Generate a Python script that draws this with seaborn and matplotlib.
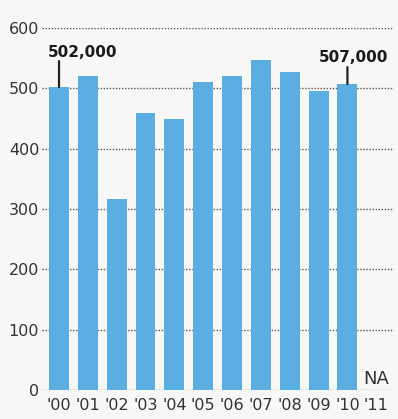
import matplotlib
matplotlib.use("Agg")
import matplotlib.pyplot as plt
import seaborn as sns
import pandas as pd
import numpy as np

years = ["'00", "'01", "'02", "'03", "'04", "'05", "'06", "'07", "'08", "'09", "'10", "'11"]
values = [502, 520, 317, 459, 449, 511, 520, 547, 527, 496, 507, np.nan]
y_ticks = [0, 100, 200, 300, 400, 500, 600]
callouts = {"'00": "502,000", "'10": "507,000"}
na_label = "NA"

sns.set_theme(style="white")
plt.rcParams['font.family'] = ['DejaVu Sans']

bg = '#f7f7f5'
bar_color = '#5baee2'

fig = plt.figure(figsize=(3.98, 4.19), dpi=100, facecolor=bg)
ax = fig.add_axes([42/398, 29/419, 351/398, 362/419])
ax.set_facecolor(bg)

df = pd.DataFrame({'year': years, 'value': values})
sns.barplot(data=df, x='year', y='value', color=bar_color, saturation=1,
            width=0.69, ax=ax, zorder=3, linewidth=0, edgecolor='none')

ax.set_ylim(0, 600)
ax.set_xlim(-0.59, 11.58)
ax.set_yticks(y_ticks)
ax.set_yticklabels([str(t) for t in y_ticks], fontsize=11.5, color='#333333')
ax.tick_params(axis='y', length=0, pad=2)
ax.tick_params(axis='x', length=0, pad=6, labelsize=11.5, labelcolor='#333333')
ax.set_xlabel('')
ax.set_ylabel('')
for s in ax.spines.values():
    s.set_visible(False)
ax.set_axisbelow(True)
ax.yaxis.grid(True, linestyle=(0, (1, 1.2)), color='#555555', linewidth=1.0)
for gl in ax.yaxis.get_gridlines():
    gl.set_zorder(0)

offsets = {"'00": ((24, 35), 26), "'10": ((6, 27), 17)}
for i, (yr, v) in enumerate(zip(years, values)):
    if yr in callouts:
        (tx, ty), ln = offsets[yr]
        ax.annotate('', xy=(i, v), xytext=(0, ln), textcoords='offset pixels',
                    arrowprops=dict(arrowstyle='-', lw=1.6, color='#222222',
                                    shrinkA=0, shrinkB=0), zorder=5)
        ax.annotate(callouts[yr], xy=(i, v), xytext=(tx, ty), textcoords='offset pixels',
                    ha='center', va='center', fontsize=11, fontweight='bold',
                    color='#1a1a1a', zorder=6)

ax.text(years.index("'11"), 3, na_label, ha='center', va='bottom', fontsize=13,
        color='#333333', zorder=6)

fig.savefig('out.png', dpi=100, facecolor=bg)
